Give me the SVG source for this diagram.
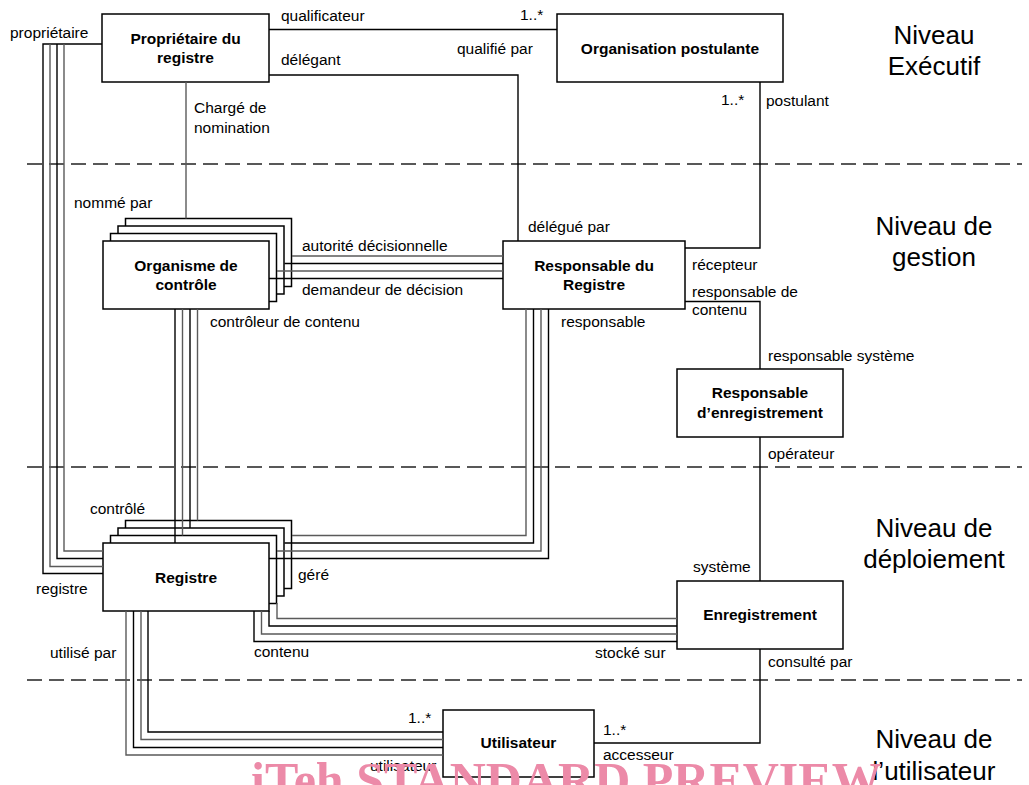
<svg xmlns="http://www.w3.org/2000/svg" width="1029" height="785" viewBox="0 0 1029 785">
<style>
.box{fill:#fff;stroke:#000;stroke-width:1.5}
.nl{font-family:"Liberation Sans",Arial,sans-serif;font-size:15.5px;font-weight:bold;text-anchor:middle;fill:#000}
.el{font-family:"Liberation Sans",Arial,sans-serif;font-size:15.5px;fill:#000}
.lv{font-family:"Liberation Sans",Arial,sans-serif;font-size:26px;text-anchor:middle;fill:#000}
.k{fill:none;stroke:#000;stroke-width:1.4}
.g{fill:none;stroke:#5a5a5a;stroke-width:1.4}
.dash{fill:none;stroke:#222;stroke-width:1.5;stroke-dasharray:15 7}
.wm{font-family:"Liberation Serif","Times New Roman",serif;font-size:50px;font-weight:bold;fill:#ec8aa8}
</style>
<rect width="1029" height="785" fill="#fff"/>
<g id="levels">
<line class="dash" x1="27" y1="164" x2="1022" y2="164"/>
<line class="dash" x1="27" y1="467" x2="1022" y2="467"/>
<line class="dash" x1="27" y1="680" x2="1022" y2="680"/>
<text class="lv" x="934" y="44">Niveau</text>
<text class="lv" x="934" y="75">Exécutif</text>
<text class="lv" x="934" y="235">Niveau de</text>
<text class="lv" x="934" y="266">gestion</text>
<text class="lv" x="934" y="537">Niveau de</text>
<text class="lv" x="934" y="568">déploiement</text>
<text class="lv" x="934" y="748">Niveau de</text>
<text class="lv" x="934" y="780">l’utilisateur</text>
</g>
<g id="n-proprietaire">
<rect class="box" x="102" y="14" width="167" height="68"/>
<text class="nl" x="185.5" y="44">Propriétaire du</text>
<text class="nl" x="185.5" y="63">registre</text>
</g>
<g id="n-organisation">
<rect class="box" x="557" y="14" width="226" height="68"/>
<text class="nl" x="670" y="54">Organisation postulante</text>
</g>
<g id="n-organisme">
<rect class="box" x="125.5" y="218.5" width="166" height="68"/>
<rect class="box" x="118" y="226" width="166" height="68"/>
<rect class="box" x="110.5" y="233.5" width="166" height="68"/>
<rect class="box" x="103" y="241" width="166" height="68"/>
<text class="nl" x="186" y="271">Organisme de</text>
<text class="nl" x="186" y="290">contrôle</text>
</g>
<g id="n-responsable-registre">
<rect class="box" x="503" y="241" width="182" height="68"/>
<text class="nl" x="594" y="271">Responsable du</text>
<text class="nl" x="594" y="290">Registre</text>
</g>
<g id="n-responsable-enregistrement">
<rect class="box" x="677" y="369" width="166" height="68"/>
<text class="nl" x="760" y="398">Responsable</text>
<text class="nl" x="760" y="418">d’enregistrement</text>
</g>
<g id="n-registre">
<rect class="box" x="125.5" y="520.5" width="166" height="68"/>
<rect class="box" x="118" y="528" width="166" height="68"/>
<rect class="box" x="110.5" y="535.5" width="166" height="68"/>
<rect class="box" x="103" y="543" width="166" height="68"/>
<text class="nl" x="186" y="583">Registre</text>
</g>
<g id="n-enregistrement">
<rect class="box" x="677" y="581" width="166" height="68"/>
<text class="nl" x="760" y="620">Enregistrement</text>
</g>
<g id="n-utilisateur">
<rect class="box" x="443" y="710" width="151" height="67"/>
<text class="nl" x="518.5" y="748">Utilisateur</text>
</g>
<g id="connectors">
<path class="k" d="M269,29.5H557"/>
<path class="k" d="M269,75H518V241"/>
<path class="g" d="M186,82V218.5"/>
<path class="k" d="M760,82V248H685"/>
<path class="k" d="M685,301.5H760V369"/>
<path class="k" d="M760,437V581"/>
<path class="k" d="M760,649V743H594"/>
<path class="k" d="M102,44H43V573.5H103"/>
<path class="g" d="M50,44V566.5H103"/>
<path class="k" d="M57,44V558.5H103"/>
<path class="g" d="M64,44V551H103"/>
<path class="g" d="M292,256H503"/>
<path class="k" d="M284.5,263.5H503"/>
<path class="g" d="M277,271H503"/>
<path class="k" d="M269,278.5H503"/>
<path class="k" d="M175,309V543"/>
<path class="g" d="M182.5,309V535.5"/>
<path class="k" d="M190,309V528"/>
<path class="g" d="M197.5,309V520.5"/>
<path class="g" d="M292,535.5H526V309"/>
<path class="k" d="M284.5,543H533.5V309"/>
<path class="g" d="M277,551H541V309"/>
<path class="k" d="M269,558.5H548.5V309"/>
<path class="g" d="M277,603V618.5H677"/>
<path class="k" d="M269,611V626H677"/>
<path class="g" d="M261.5,611V634H677"/>
<path class="k" d="M254,611V641.5H677"/>
<path class="k" d="M148,611V732H443"/>
<path class="g" d="M141,611V739.5H443"/>
<path class="k" d="M133.5,611V747.5H443"/>
<path class="g" d="M126,611V755H443"/>
</g>
<g id="labels">
<text class="el" x="10" y="38">propriétaire</text>
<text class="el" x="281" y="21">qualificateur</text>
<text class="el" x="520" y="20">1..*</text>
<text class="el" x="457" y="54">qualifié par</text>
<text class="el" x="281" y="65">délégant</text>
<text class="el" x="194" y="113">Chargé de</text>
<text class="el" x="194" y="133">nomination</text>
<text class="el" x="721" y="105">1..*</text>
<text class="el" x="766" y="106">postulant</text>
<text class="el" x="74" y="208">nommé par</text>
<text class="el" x="302" y="251">autorité décisionnelle</text>
<text class="el" x="302" y="295">demandeur de décision</text>
<text class="el" x="210" y="327">contrôleur de contenu</text>
<text class="el" x="528" y="232">délégué par</text>
<text class="el" x="692" y="270">récepteur</text>
<text class="el" x="692" y="297">responsable de</text>
<text class="el" x="692" y="315">contenu</text>
<text class="el" x="561" y="327">responsable</text>
<text class="el" x="768" y="361">responsable système</text>
<text class="el" x="768" y="459">opérateur</text>
<text class="el" x="90" y="514">contrôlé</text>
<text class="el" x="36" y="594">registre</text>
<text class="el" x="298" y="580">géré</text>
<text class="el" x="693" y="572">système</text>
<text class="el" x="50" y="658">utilisé par</text>
<text class="el" x="254" y="657">contenu</text>
<text class="el" x="595" y="658">stocké sur</text>
<text class="el" x="768" y="667">consulté par</text>
<text class="el" x="408" y="723">1..*</text>
<text class="el" x="370" y="771">utilisateur</text>
<text class="el" x="603" y="735">1..*</text>
<text class="el" x="603" y="760">accesseur</text>
</g>
<text class="wm" x="251" y="797">iTeh STANDARD PREVIEW</text>
</svg>
